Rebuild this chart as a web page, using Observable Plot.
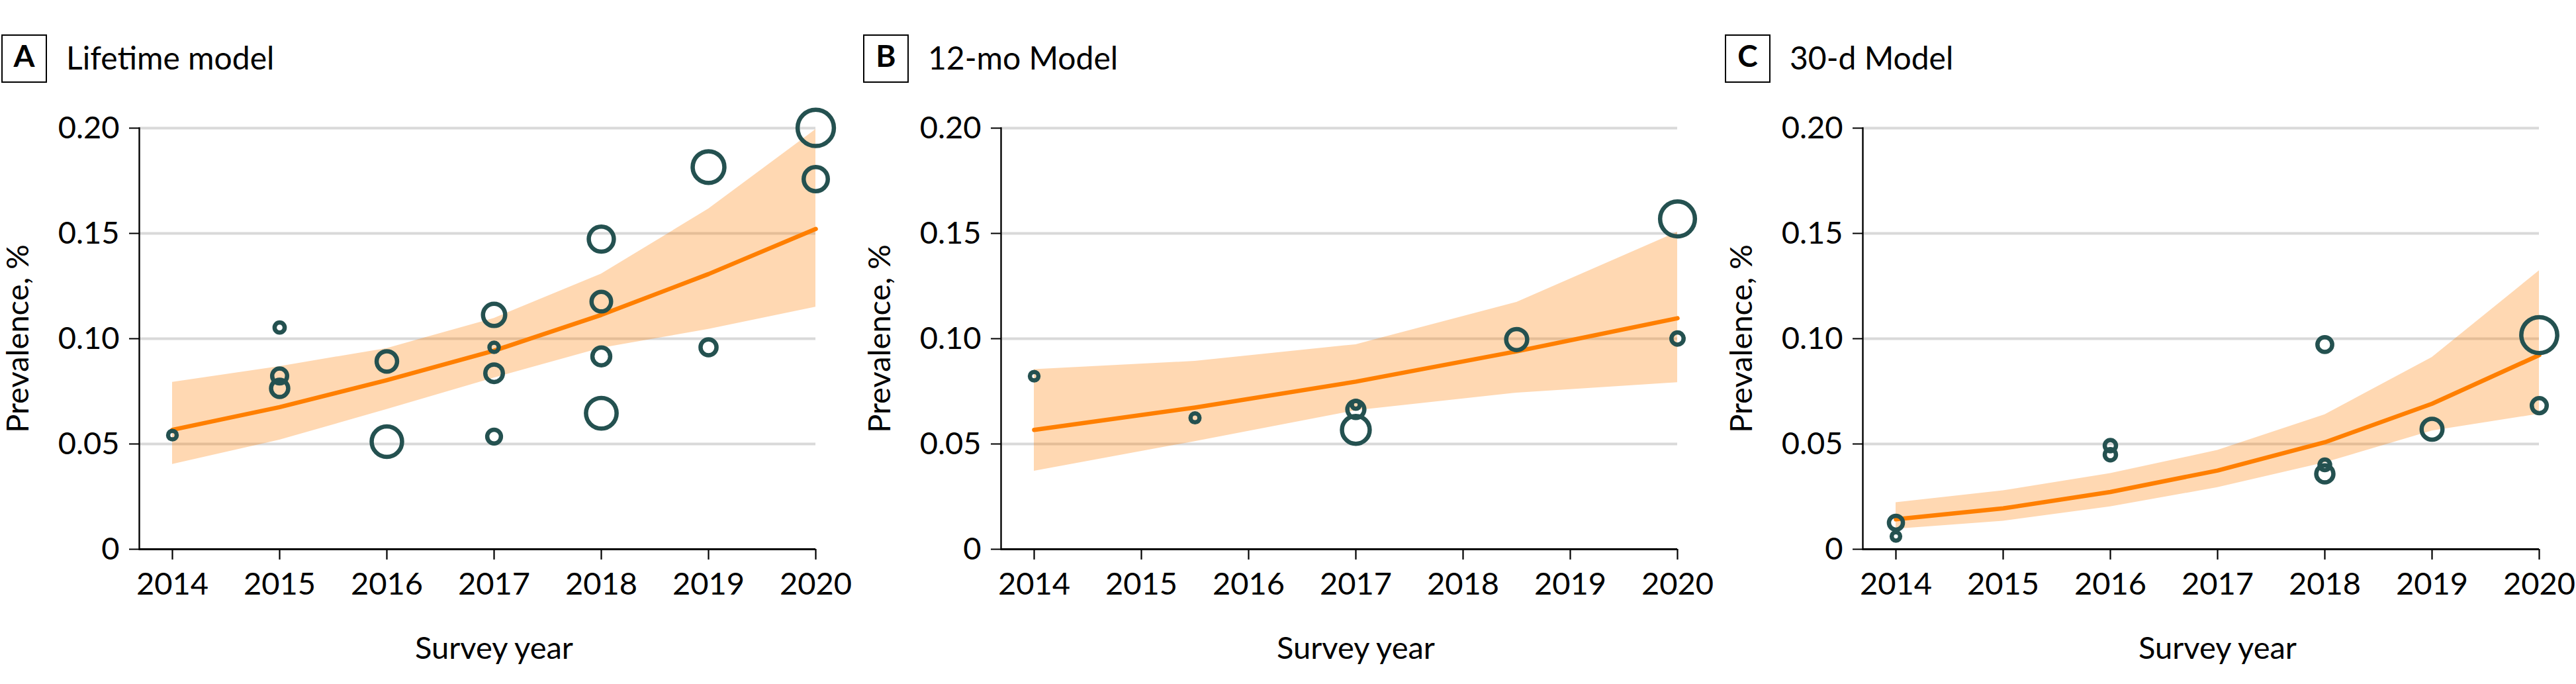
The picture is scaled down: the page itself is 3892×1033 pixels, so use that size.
<!DOCTYPE html>
<html>
<head>
<meta charset="utf-8">
<script src="https://cdn.jsdelivr.net/npm/d3@7"></script>
<script src="https://cdn.jsdelivr.net/npm/@observablehq/plot@0.6"></script>
<style>
  html, body { margin: 0; padding: 0; background: #fff; }
  body { width: 3892px; height: 1033px; overflow: hidden; position: relative; font-family: Lato, sans-serif; }
  .panel { position: absolute; top: 0; width: 1288px; height: 1033px; }
  .box { position: absolute; left: 2px; top: 52px; width: 69px; height: 73px; box-sizing: border-box; border: 2.7px solid #000; }
  .letter { position: absolute; left: 0; width: 100%; text-align: center; top: 2px; font-size: 46px; font-weight: 700; line-height: 55px; }
  .ttl { position: absolute; left: 100px; top: 58px; font-size: 48px; line-height: 58px; white-space: nowrap; color: #000; }
  .chart { position: absolute; left: 0; top: 140px; }
</style>
</head>
<body>
<script>
// ---------- shared tick labels ----------
const yearTicks = [2014, 2015, 2016, 2017, 2018, 2019, 2020];
const prevalenceTicks = [0, 0.05, 0.10, 0.15, 0.20];
const gridTicks = [0.05, 0.10, 0.15, 0.20];
const panelLetters = ["A", "B", "C"];
const panelTitles = ["Lifetime model", "12-mo Model", "30-d Model"];

// ---------- A: Lifetime model ----------
const lifetimeFitYears = [2014, 2015, 2016, 2017, 2018, 2019, 2020];
const lifetimeFit   = [0.0567, 0.0675, 0.0803, 0.0943, 0.1113, 0.1307, 0.1521];
const lifetimeLower = [0.0403, 0.0519, 0.0664, 0.0814, 0.0955, 0.1045, 0.1150];
const lifetimeUpper = [0.0793, 0.0868, 0.0954, 0.1097, 0.1307, 0.1616, 0.1994];
const lifetimeYear  = [2014, 2015, 2015, 2015, 2016, 2016, 2017, 2017, 2017, 2017, 2018, 2018, 2018, 2018, 2019, 2019, 2020, 2020];
const lifetimeValue = [0.0542, 0.1053, 0.0823, 0.0764, 0.0892, 0.0511, 0.1113, 0.0959, 0.0836, 0.0535, 0.1473, 0.1176, 0.0916, 0.0646, 0.1815, 0.0959, 0.2001, 0.1758];
const lifetimeSize  = [0.42, 0.58, 1.28, 1.69, 2.40, 5.30, 2.82, 0.49, 1.77, 1.08, 3.60, 2.19, 1.82, 5.38, 5.76, 1.46, 7.56, 3.35];

// ---------- B: 12-mo model ----------
const twelveFitYears = [2014, 2015.5, 2017, 2018.5, 2020];
const twelveFit   = [0.0567, 0.0673, 0.0796, 0.0940, 0.1097];
const twelveLower = [0.0371, 0.0512, 0.0659, 0.0742, 0.0792];
const twelveUpper = [0.0854, 0.0893, 0.0972, 0.1173, 0.1506];
const twelveYear  = [2014, 2015.5, 2017, 2017, 2017, 2018.5, 2020, 2020];
const twelveValue = [0.0822, 0.0624, 0.0686, 0.0664, 0.0567, 0.0996, 0.1001, 0.1569];
const twelveSize  = [0.42, 0.46, 0.36, 1.66, 4.41, 2.53, 0.85, 6.97];

// ---------- C: 30-d model ----------
const thirtyFitYears = [2014, 2015, 2016, 2017, 2018, 2019, 2020];
const thirtyFit   = [0.0142, 0.0194, 0.0272, 0.0374, 0.0508, 0.0691, 0.0922];
const thirtyLower = [0.0096, 0.0134, 0.0202, 0.0293, 0.0411, 0.0562, 0.0642];
const thirtyUpper = [0.0222, 0.0278, 0.0360, 0.0470, 0.0639, 0.0911, 0.1323];
const thirtyYear  = [2014, 2014, 2016, 2016, 2018, 2018, 2018, 2019, 2020, 2020];
const thirtyValue = [0.0126, 0.0061, 0.0492, 0.0449, 0.0972, 0.0401, 0.0358, 0.0570, 0.0682, 0.1017];
const thirtySize  = [1.12, 0.41, 0.72, 0.72, 1.25, 0.64, 1.69, 2.50, 1.28, 7.40];

const panels = [
  {fitYears: lifetimeFitYears, fit: lifetimeFit, lower: lifetimeLower, upper: lifetimeUpper, ptYear: lifetimeYear, ptValue: lifetimeValue, ptSize: lifetimeSize},
  {fitYears: twelveFitYears, fit: twelveFit, lower: twelveLower, upper: twelveUpper, ptYear: twelveYear, ptValue: twelveValue, ptSize: twelveSize},
  {fitYears: thirtyFitYears, fit: thirtyFit, lower: thirtyLower, upper: thirtyUpper, ptYear: thirtyYear, ptValue: thirtyValue, ptSize: thirtySize}
];

const ORANGE = "#ff7f00";
const TEAL = "#245150";
const fmtY = d => d === 0 ? "0" : d.toFixed(2);
const panelLeft = [0, 1302, 2604];

panels.forEach((p, i) => {
  const div = document.createElement("div");
  div.className = "panel";
  div.style.left = panelLeft[i] + "px";
  document.body.appendChild(div);

  const box = document.createElement("div");
  box.className = "box";
  const letter = document.createElement("div");
  letter.className = "letter";
  letter.textContent = panelLetters[i];
  box.appendChild(letter);
  div.appendChild(box);

  const ttl = document.createElement("div");
  ttl.className = "ttl";
  ttl.textContent = panelTitles[i];
  div.appendChild(ttl);

  const band = p.fitYears.map((x, k) => ({x, fit: p.fit[k], lo: p.lower[k], hi: p.upper[k]}));
  const pts = p.ptYear.map((x, k) => ({x, y: p.ptValue[k], n: p.ptSize[k]}));

  const plot = Plot.plot({
    width: 1288,
    height: 860,
    marginLeft: 210,
    marginRight: 56,
    marginTop: 53,
    marginBottom: 171,
    insetLeft: 50,
    style: {fontFamily: "Lato, sans-serif", fontSize: "47px", color: "#000", background: "transparent", overflow: "visible"},
    x: {domain: [2014, 2020]},
    y: {domain: [0, 0.2]},
    r: {domain: [0, 7.6], range: [0, 27.5]},
    marks: [
      Plot.gridY(gridTicks, {stroke: "#d9d9d9", strokeOpacity: 1, strokeWidth: 4}),
      Plot.areaY(band, {x: "x", y1: "lo", y2: "hi", fill: ORANGE, fillOpacity: 0.3}),
      Plot.lineY(band, {x: "x", y: "fit", stroke: ORANGE, strokeWidth: 6.5}),
      Plot.dot(pts, {x: "x", y: "y", r: "n", stroke: TEAL, strokeWidth: 6.5, fill: "none"}),
      Plot.axisY({ticks: prevalenceTicks, tickFormat: fmtY, tickSize: 15, tickPadding: 15, strokeWidth: 2,
        label: "Prevalence, %", labelAnchor: "center", labelArrow: "none", labelOffset: 201}),
      Plot.axisX({ticks: yearTicks, tickFormat: d => String(d), tickSize: 16, tickPadding: 19, strokeWidth: 2.2,
        label: "Survey year", labelAnchor: "center", labelArrow: "none", labelOffset: 165}),
      Plot.frame({anchor: "left", strokeWidth: 2.4}),
      Plot.ruleY([0], {strokeWidth: 3})
    ]
  });
  plot.classList.add("chart");
  div.appendChild(plot);

  // center the x-axis title on the year range (from the x scale)
  const xs = plot.scale("x");
  const center = (xs.apply(yearTicks[0]) + xs.apply(yearTicks[yearTicks.length - 1])) / 2;
  const frameCenter = (210 + (1288 - 56)) / 2;
  const lab = plot.querySelector('g[aria-label="x-axis label"]');
  if (lab) {
    const t = lab.getAttribute("transform") || "";
    lab.setAttribute("transform", `translate(${center - frameCenter},0) ${t}`);
  }
});
</script>
</body>
</html>
